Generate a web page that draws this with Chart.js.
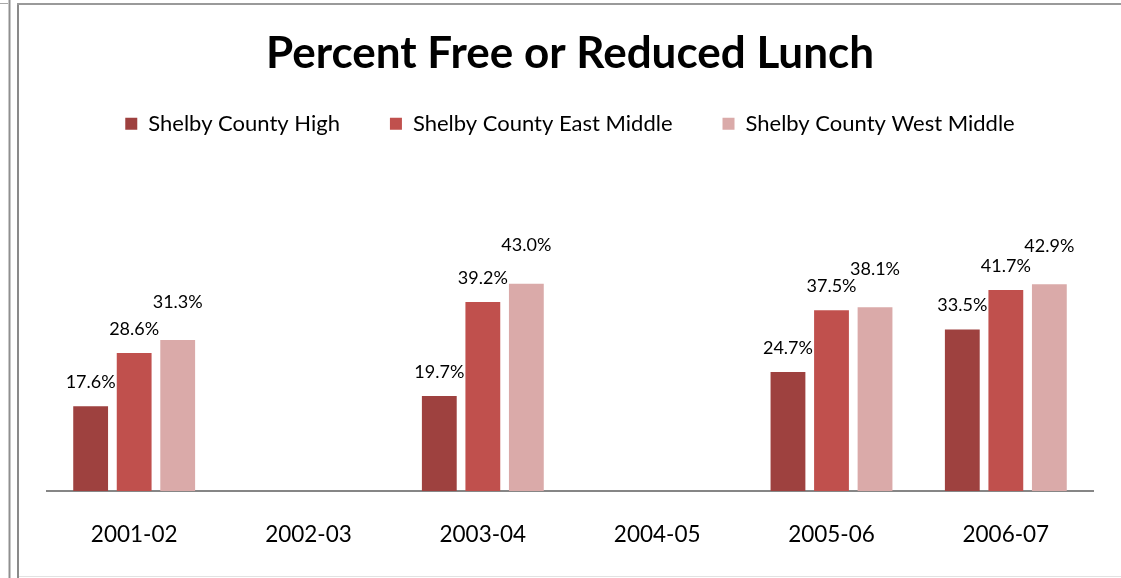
<!DOCTYPE html>
<html>
<head>
<meta charset="utf-8">
<script src="https://cdn.jsdelivr.net/npm/chart.js@4/dist/chart.umd.min.js"></script>
<style>
html,body{margin:0;padding:0;background:#fff;overflow:hidden;}
canvas{display:block;}
</style>
</head>
<body>
<canvas id="c" width="1121" height="578"></canvas>
<script>
const categories = ['2001-02','2002-03','2003-04','2004-05','2005-06','2006-07'];
const seriesNames = ['Shelby County High','Shelby County East Middle','Shelby County West Middle'];
const highValues = [17.6, null, 19.7, null, 24.7, 33.5];
const eastValues = [28.6, null, 39.2, null, 37.5, 41.7];
const westValues = [31.3, null, 43.0, null, 38.1, 42.9];
const colors = ['#9E413F', '#C0504D', '#DAAAA9'];

const FONT = 'Lato, "Open Sans", sans-serif';

const framePlugin = {
  id: 'frame',
  beforeDraw(chart) {
    const ctx = chart.ctx;
    ctx.save();
    ctx.fillStyle = '#fff';
    ctx.fillRect(0, 0, chart.width, chart.height);
    ctx.fillStyle = '#c8c8c8';
    ctx.fillRect(8, 0, 3, chart.height);
    ctx.fillStyle = '#8f8f8f';
    ctx.fillRect(9, 0, 1, chart.height);
    ctx.fillStyle = '#a8a8a8';
    ctx.fillRect(0, 3, 8, 1);
    ctx.fillStyle = '#8a8a8a';
    ctx.fillRect(17, 3, 2, chart.height - 3);
    ctx.fillStyle = '#9a9a9a';
    ctx.fillRect(17, 3, chart.width - 17, 2);
    ctx.fillStyle = '#e2e2e2';
    ctx.fillRect(19, 576, chart.width - 19, 1);
    ctx.restore();
  }
};

const labelOffsets = [15, 15, 29];
const valueLabelPlugin = {
  id: 'valueLabels',
  afterDatasetsDraw(chart) {
    const ctx = chart.ctx;
    ctx.save();
    ctx.font = '18px ' + FONT;
    ctx.fillStyle = '#000';
    ctx.textAlign = 'center';
    ctx.textBaseline = 'bottom';
    chart.data.datasets.forEach((ds, di) => {
      const meta = chart.getDatasetMeta(di);
      meta.data.forEach((bar, i) => {
        const v = ds.data[i];
        if (v === null || v === undefined) return;
        ctx.fillText(v.toFixed(1) + '%', bar.x, bar.y - labelOffsets[di]);
      });
    });
    ctx.restore();
  }
};

new Chart(document.getElementById('c'), {
  type: 'bar',
  data: {
    labels: categories,
    datasets: [
      { label: seriesNames[0], data: highValues, backgroundColor: colors[0] },
      { label: seriesNames[1], data: eastValues, backgroundColor: colors[1] },
      { label: seriesNames[2], data: westValues, backgroundColor: colors[2] }
    ]
  },
  options: {
    responsive: false,
    animation: false,
    categoryPercentage: 0.749,
    barPercentage: 0.80,
    layout: { padding: { left: 47, right: 28, top: 0, bottom: 0 } },
    plugins: {
      title: {
        display: true,
        text: 'Percent Free or Reduced Lunch',
        color: '#000',
        font: { family: FONT, size: 44, weight: 'bold' },
        padding: { top: 27, bottom: -17 }
      },
      legend: {
        display: true,
        position: 'top',
        labels: {
          color: '#000',
          font: { family: FONT, size: 22 },
          boxWidth: 12,
          boxHeight: 12,
          padding: 50
        }
      },
      tooltip: { enabled: false }
    },
    scales: {
      x: {
        grid: { display: false, drawTicks: false, tickLength: 0 },
        border: { display: true, color: '#868686', width: 2 },
        ticks: { color: '#000', font: { family: FONT, size: 22.5 }, padding: 30 }
      },
      y: {
        display: false,
        min: 0,
        max: 71.8
      }
    }
  },
  plugins: [framePlugin, valueLabelPlugin]
});
</script>
</body>
</html>
